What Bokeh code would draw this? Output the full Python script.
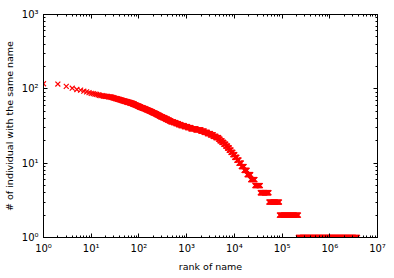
import numpy as np
from bokeh.plotting import figure
from bokeh.models import FixedTicker, LogAxis, ColumnDataSource
from bokeh.embed import file_html
from bokeh.resources import INLINE

# ---- data ----
# counts of the individual top ranks 1..10
top_counts = [117, 116, 108, 102, 98, 96, 93, 91, 89, 87]

# every count level below the top ranks and the first rank that has it
level_counts = [86, 85, 84, 83, 82, 81, 80, 79, 78, 77, 76, 75, 74, 73, 72, 71,
                70, 69, 68, 67, 66, 65, 64, 63, 62, 61, 60, 59, 58, 57, 56, 55,
                54, 53, 52, 51, 50, 49, 48, 47, 46, 45, 44, 43, 42, 41, 40, 39,
                38, 37, 36, 35, 34, 33, 32, 31, 30, 29, 28, 27, 26, 25, 24, 23,
                22, 21, 20, 19, 18, 17, 16, 15, 14, 13, 12, 11, 10, 9, 8, 7,
                6, 5, 4, 3, 2, 1]
level_first_rank = [11, 12, 13, 14, 15, 16, 18, 20, 23, 26, 28, 30, 32, 35, 37, 40,
                    43, 46, 50, 54, 58, 63, 68, 73, 77, 82, 87, 92, 97, 103, 110, 118,
                    126, 136, 146, 156, 168, 180, 192, 206, 220, 236, 252, 270, 288, 313, 339, 367,
                    398, 432, 468, 528, 596, 672, 759, 891, 1047, 1230, 1567, 1995, 2328, 2712, 3162, 3603,
                    4105, 4677, 5000, 5500, 6000, 6600, 7200, 7800, 8500, 9300, 10200, 11300, 12500, 14000, 16000, 18500,
                    22000, 27000, 35000, 53000, 88000, 220000]
last_rank = 3800000

x_ticks = [1, 10, 100, 1000, 10000, 100000, 1000000, 10000000]
x_tick_labels = ["10⁰", "10¹", "10²", "10³", "10⁴", "10⁵", "10⁶", "10⁷"]
y_ticks = [1, 10, 100, 1000]
y_tick_labels = ["10⁰", "10¹", "10²", "10³"]

# ---- marks: one marker per rank (dense runs sampled about two per pixel) ----
PX_PER_DECADE = 48.0
ranks = list(range(1, len(top_counts) + 1))
counts = list(top_counts)
for i, c in enumerate(level_counts):
    start = level_first_rank[i]
    end = level_first_rank[i + 1] - 1 if i + 1 < len(level_first_rank) else last_rank
    n_int = end - start + 1
    n_px = int(np.ceil(2 * PX_PER_DECADE * np.log10(end / start))) + 1
    if n_int <= n_px:
        rr = np.arange(start, end + 1)
    else:
        rr = np.unique(np.round(np.geomspace(start, end, n_px)))
    ranks.extend(rr.tolist())
    counts.extend([c] * len(rr))

src = ColumnDataSource(dict(rank=ranks, count=counts))

FONT = "DejaVu Sans"

p = figure(width=394, height=278, x_axis_type="log", y_axis_type="log",
           x_range=(1, 1e7), y_range=(1, 1e3),
           output_backend="svg", toolbar_location=None,
           min_border_left=42, min_border_right=17, min_border_top=14, min_border_bottom=41)
p.background_fill_color = "white"
p.border_fill_color = "white"
p.outline_line_color = "black"
p.outline_line_width = 1
p.xgrid.visible = False
p.ygrid.visible = False

p.scatter("rank", "count", source=src, marker="x", size=7,
          line_color="#ff0000", line_width=1.2)

x_minor = [k * 10 ** n for n in range(7) for k in range(2, 10)]
y_minor = [k * 10 ** n for n in range(3) for k in range(2, 10)]


def style(ax, labels=True):
    ax.major_tick_in = 4
    ax.major_tick_out = 0
    ax.minor_tick_in = 2
    ax.minor_tick_out = 0
    ax.axis_line_color = "black"
    ax.major_tick_line_color = "black"
    ax.minor_tick_line_color = "black"
    ax.major_label_text_font = FONT
    ax.axis_label_text_font = FONT
    ax.axis_label_text_font_style = "normal"
    ax.axis_label_text_font_size = "9.5px"
    ax.axis_label_text_color = "black"
    if labels:
        ax.major_label_text_color = "black"
        ax.major_label_text_font_size = "10px"
        ax.major_label_standoff = 5
        ax.axis_label_standoff = 4
    else:
        ax.major_label_text_font_size = "1px"
        ax.major_label_text_alpha = 0
        ax.major_label_standoff = 0


xa = p.xaxis[0]
xa.ticker = FixedTicker(ticks=x_ticks, minor_ticks=x_minor)
xa.major_label_overrides = dict(zip(x_ticks, x_tick_labels))
xa.axis_label = "rank of name"
style(xa)

ya = p.yaxis[0]
ya.ticker = FixedTicker(ticks=y_ticks, minor_ticks=y_minor)
ya.major_label_overrides = dict(zip(y_ticks, y_tick_labels))
ya.axis_label = "# of individual with the same name"
style(ya)

top = LogAxis(ticker=FixedTicker(ticks=x_ticks, minor_ticks=x_minor))
style(top, labels=False)
p.add_layout(top, "above")

right = LogAxis(ticker=FixedTicker(ticks=y_ticks, minor_ticks=y_minor))
style(right, labels=False)
p.add_layout(right, "right")

open("out.html", "w").write(file_html(p, INLINE))
